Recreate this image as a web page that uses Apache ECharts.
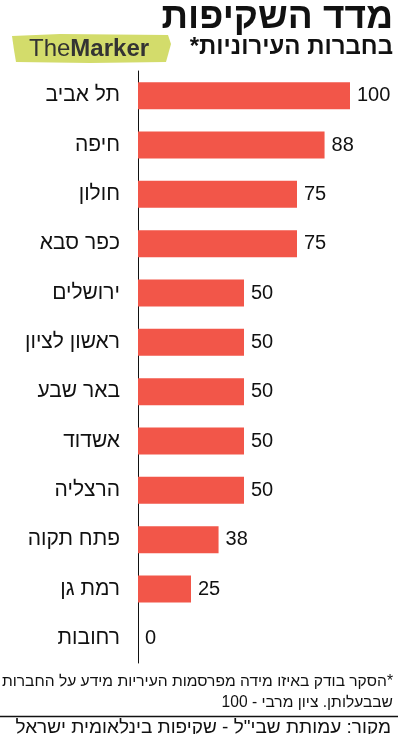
<!DOCTYPE html>
<html>
<head>
<meta charset="utf-8">
<script src="https://cdn.jsdelivr.net/npm/echarts@6/dist/echarts.min.js"></script>
<style>
html, body { margin: 0; padding: 0; background: #fff; }
#chart { width: 398px; height: 734px; }
</style>
</head>
<body>
<div id="chart" dir="rtl"></div>
<script>
var cities = ["תל אביב", "חיפה", "חולון", "כפר סבא", "ירושלים", "ראשון לציון", "באר שבע", "אשדוד", "הרצליה", "פתח תקוה", "רמת גן", "רחובות"];
var scores = [100, 88, 75, 75, 50, 50, 50, 50, 50, 38, 25, 0];
var titleText = "מדד השקיפות";
var subTitleText = "בחברות העירוניות*";
var noteLines = ["*הסקר בודק באיזו מידה מפרסמות העיריות מידע על החברות", "שבבעלותן. ציון מרבי - 100"];
var sourceText = "מקור: עמותת שבי\"ל - שקיפות בינלאומית ישראל";

var font = "'Liberation Sans', 'DejaVu Sans', sans-serif";
var myChart = echarts.init(document.getElementById('chart'));

var option = {
    backgroundColor: '#fff',
    animation: false,
    grid: { left: 138, right: 48, top: 71, bottom: 71 },
    xAxis: {
        type: 'value',
        min: 0,
        max: 100,
        show: false
    },
    yAxis: {
        type: 'category',
        inverse: true,
        data: cities,
        axisLine: { show: true, lineStyle: { color: '#111', width: 1 } },
        axisTick: { show: false },
        axisLabel: { fontSize: 21, color: '#111', margin: 18, fontFamily: font }
    },
    series: [{
        type: 'bar',
        data: scores,
        barWidth: 27,
        itemStyle: { color: '#f25649' },
        label: {
            show: true,
            position: 'right',
            distance: 7,
            fontSize: 20,
            color: '#111',
            fontFamily: font
        }
    }],
    graphic: [
        // logo brush
        {
            type: 'polygon',
            shape: { points: [[12, 36], [60, 34], [168, 35], [171, 44], [166, 62], [90, 63], [16, 62], [14, 50]] },
            style: { fill: '#d3dc6b' }
        },
        {
            type: 'text', left: 29, top: 37,
            style: {
                text: '{a|The}{b|Marker}',
                rich: {
                    a: { fontSize: 24, fontFamily: font, fill: '#333', fontWeight: 'normal' },
                    b: { fontSize: 24, fontFamily: font, fill: '#333', fontWeight: 'bold' }
                }
            }
        },
        {
            type: 'text', right: 5, top: -1,
            style: { text: titleText, fontSize: 37, fontWeight: 'bold', fontFamily: font, fill: '#111' }
        },
        {
            type: 'text', right: 5, top: 35,
            style: { text: subTitleText, fontSize: 24, fontWeight: 'bold', fontFamily: font, fill: '#111' }
        },
        {
            type: 'text', right: 5, top: 674,
            style: { text: noteLines[0], fontSize: 15.6, fontFamily: font, fill: '#111' }
        },
        {
            type: 'text', right: 5, top: 695,
            style: { text: noteLines[1], fontSize: 15.6, fontFamily: font, fill: '#111' }
        },
        {
            type: 'line',
            shape: { x1: 0, y1: 716.5, x2: 398, y2: 716.5 },
            style: { stroke: '#111', lineWidth: 1.5 }
        },
        {
            type: 'text', right: 7, top: 718,
            style: { text: sourceText, fontSize: 19, fontFamily: font, fill: '#111' }
        }
    ]
};
myChart.setOption(option);
</script>
</body>
</html>
